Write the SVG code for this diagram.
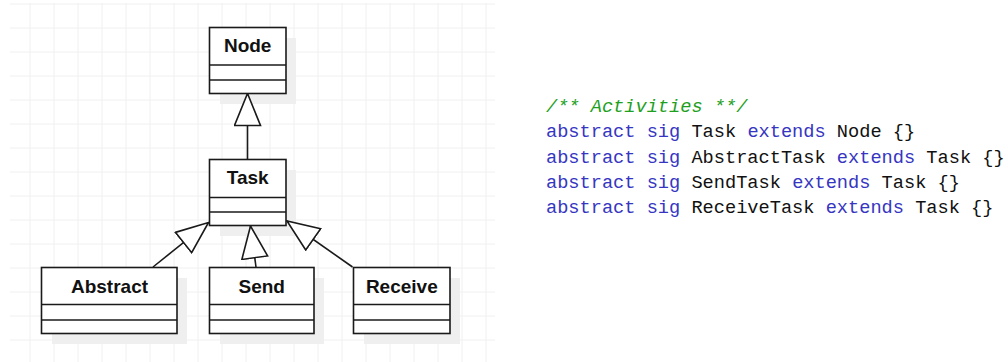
<svg xmlns="http://www.w3.org/2000/svg" width="1008" height="362" viewBox="0 0 1008 362">
<style>
.grid line{stroke:#f0f0f0;stroke-width:1}
.shadow{fill:#efefef}
.box rect,.box line{fill:#fff;stroke:#1a1a1a;stroke-width:1.6}
.box line{fill:none}
.lbl{font-family:"Liberation Sans",Arial,sans-serif;font-weight:bold;font-size:19px;fill:#111;text-anchor:middle}
.conn path{stroke:#1a1a1a;stroke-width:1.6;fill:none}
.code{font-family:"Liberation Mono","DejaVu Sans Mono",monospace;font-size:18.65px;fill:#111}
.kw{fill:#3636c2}
.cm{fill:#1ea01e;font-style:italic}
</style>
<defs>
<marker id="tri" viewBox="0 0 34 28" refX="33" refY="14" markerWidth="34" markerHeight="28" orient="auto" markerUnits="userSpaceOnUse">
<path d="M1,1 L33,14 L1,27 Z" fill="#fff" stroke="#1a1a1a" stroke-width="1.6" stroke-linejoin="miter"/>
</marker>
</defs>
<rect width="1008" height="362" fill="#fff"/>
<g class="grid">
<line x1="10" y1="4" x2="495" y2="4"/><line x1="10" y1="28" x2="495" y2="28"/><line x1="10" y1="52" x2="495" y2="52"/><line x1="10" y1="76" x2="495" y2="76"/><line x1="10" y1="100" x2="495" y2="100"/><line x1="10" y1="124" x2="495" y2="124"/><line x1="10" y1="148" x2="495" y2="148"/><line x1="10" y1="172" x2="495" y2="172"/><line x1="10" y1="196" x2="495" y2="196"/><line x1="10" y1="220" x2="495" y2="220"/><line x1="10" y1="244" x2="495" y2="244"/><line x1="10" y1="268" x2="495" y2="268"/><line x1="10" y1="292" x2="495" y2="292"/><line x1="10" y1="316" x2="495" y2="316"/><line x1="10" y1="340" x2="495" y2="340"/>
<line x1="30" y1="3" x2="30" y2="362"/><line x1="54" y1="3" x2="54" y2="362"/><line x1="78" y1="3" x2="78" y2="362"/><line x1="102" y1="3" x2="102" y2="362"/><line x1="126" y1="3" x2="126" y2="362"/><line x1="150" y1="3" x2="150" y2="362"/><line x1="174" y1="3" x2="174" y2="362"/><line x1="198" y1="3" x2="198" y2="362"/><line x1="222" y1="3" x2="222" y2="362"/><line x1="246" y1="3" x2="246" y2="362"/><line x1="270" y1="3" x2="270" y2="362"/><line x1="294" y1="3" x2="294" y2="362"/><line x1="318" y1="3" x2="318" y2="362"/><line x1="342" y1="3" x2="342" y2="362"/><line x1="366" y1="3" x2="366" y2="362"/><line x1="390" y1="3" x2="390" y2="362"/><line x1="414" y1="3" x2="414" y2="362"/><line x1="438" y1="3" x2="438" y2="362"/><line x1="462" y1="3" x2="462" y2="362"/><line x1="486" y1="3" x2="486" y2="362"/>
</g>
<g id="shadows">
<rect class="shadow" x="220" y="38" width="76" height="66"/>
<rect class="shadow" x="220" y="170" width="76" height="66"/>
<rect class="shadow" x="52" y="278" width="135" height="66"/>
<rect class="shadow" x="220" y="278" width="104" height="66"/>
<rect class="shadow" x="364" y="278" width="96" height="66"/>
</g>
<g id="connectors" class="conn">
<path d="M247.5,159.5 L247.5,93.5" marker-end="url(#tri)"/>
<path d="M153,267 L208.5,222.5" marker-end="url(#tri)"/>
<path d="M256,267 L250.5,226" marker-end="url(#tri)"/>
<path d="M352.5,267 L287,221" marker-end="url(#tri)"/>
</g>
<g id="node-Node" class="box">
<rect x="209.5" y="27.5" width="76.5" height="66"/>
<line x1="209.5" y1="65" x2="286" y2="65"/><line x1="209.5" y1="80" x2="286" y2="80"/>
<text class="lbl" x="247.7" y="52.3">Node</text>
</g>
<g id="node-Task" class="box">
<rect x="209.5" y="159.5" width="76.5" height="66"/>
<line x1="209.5" y1="197.5" x2="286" y2="197.5"/><line x1="209.5" y1="212" x2="286" y2="212"/>
<text class="lbl" x="247.7" y="184.3">Task</text>
</g>
<g id="node-Abstract" class="box">
<rect x="41.5" y="267.5" width="135.5" height="66"/>
<line x1="41.5" y1="304.5" x2="177" y2="304.5"/><line x1="41.5" y1="320" x2="177" y2="320"/>
<text class="lbl" x="109.5" y="293">Abstract</text>
</g>
<g id="node-Send" class="box">
<rect x="209.5" y="267.5" width="104.5" height="66"/>
<line x1="209.5" y1="304.5" x2="314" y2="304.5"/><line x1="209.5" y1="320" x2="314" y2="320"/>
<text class="lbl" x="261.7" y="293">Send</text>
</g>
<g id="node-Receive" class="box">
<rect x="353.5" y="267.5" width="96.5" height="66"/>
<line x1="353.5" y1="304.5" x2="450" y2="304.5"/><line x1="353.5" y1="320" x2="450" y2="320"/>
<text class="lbl" x="401.8" y="293">Receive</text>
</g>
<g id="code" class="code" xml:space="preserve">
<text x="546" y="111.5"><tspan class="cm">/** Activities **/</tspan></text>
<text x="546" y="137"><tspan class="kw">abstract sig</tspan> Task <tspan class="kw">extends</tspan> Node {}</text>
<text x="546" y="162.5"><tspan class="kw">abstract sig</tspan> AbstractTask <tspan class="kw">extends</tspan> Task {}</text>
<text x="546" y="188"><tspan class="kw">abstract sig</tspan> SendTask <tspan class="kw">extends</tspan> Task {}</text>
<text x="546" y="213"><tspan class="kw">abstract sig</tspan> ReceiveTask <tspan class="kw">extends</tspan> Task {}</text>
</g>
</svg>
